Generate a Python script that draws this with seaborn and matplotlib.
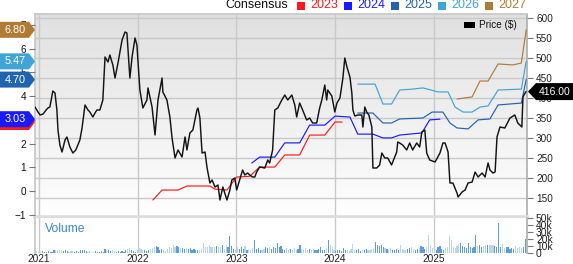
import numpy as np
import pandas as pd
import matplotlib
matplotlib.use("Agg")
import matplotlib.pyplot as plt
import matplotlib.dates as mdates
from matplotlib.patches import Polygon, Rectangle
from matplotlib.colors import LinearSegmentedColormap
import seaborn as sns

# ---------------- data ----------------
price_dates = [
    "2020-12-17", "2020-12-28", "2021-01-05", "2021-01-16", "2021-01-27", "2021-02-03", "2021-02-10",
    "2021-02-21", "2021-03-01", "2021-03-08", "2021-03-12", "2021-03-19", "2021-03-27", "2021-04-07",
    "2021-04-14", "2021-04-25", "2021-05-06", "2021-05-17", "2021-06-01", "2021-06-09", "2021-06-20",
    "2021-07-01", "2021-07-08", "2021-07-19", "2021-07-27", "2021-08-03", "2021-08-14", "2021-08-25",
    "2021-09-02", "2021-09-13", "2021-09-20", "2021-10-01", "2021-10-09", "2021-10-20", "2021-10-27",
    "2021-11-04", "2021-11-15", "2021-11-22", "2021-12-03", "2021-12-11", "2021-12-22", "2021-12-29",
    "2022-01-09", "2022-01-20", "2022-02-04", "2022-02-08", "2022-02-23", "2022-03-06", "2022-03-17",
    "2022-04-01", "2022-04-04", "2022-04-19", "2022-04-30", "2022-05-08", "2022-05-19", "2022-05-30",
    "2022-06-14", "2022-06-25", "2022-07-02", "2022-07-13", "2022-07-24", "2022-08-08", "2022-08-12",
    "2022-08-19", "2022-08-27", "2022-09-07", "2022-09-14", "2022-09-25", "2022-10-03", "2022-10-14",
    "2022-10-25", "2022-11-01", "2022-11-12", "2022-11-27", "2022-12-08", "2022-12-15", "2022-12-26",
    "2023-01-02", "2023-01-13", "2023-01-24", "2023-02-01", "2023-02-12", "2023-02-19", "2023-03-02",
    "2023-03-10", "2023-03-17", "2023-03-28", "2023-04-16", "2023-04-27", "2023-05-04", "2023-05-15",
    "2023-05-23", "2023-06-03", "2023-06-18", "2023-06-29", "2023-07-10", "2023-07-25", "2023-08-05",
    "2023-08-12", "2023-08-23", "2023-09-03", "2023-09-18", "2023-09-29", "2023-10-10", "2023-10-25",
    "2023-11-05", "2023-11-13", "2023-11-24", "2023-12-01", "2023-12-05", "2023-12-20", "2023-12-31",
    "2024-01-08", "2024-01-19", "2024-01-30", "2024-02-06", "2024-02-14", "2024-02-25", "2024-03-03",
    "2024-03-07", "2024-03-14", "2024-03-25", "2024-04-09", "2024-04-13", "2024-04-20", "2024-04-27",
    "2024-05-05", "2024-05-16", "2024-05-20", "2024-06-03", "2024-06-14", "2024-06-22", "2024-07-03",
    "2024-07-14", "2024-07-28", "2024-08-16", "2024-08-20", "2024-08-27", "2024-09-07", "2024-09-22",
    "2024-10-03", "2024-10-14", "2024-10-29", "2024-11-09", "2024-11-17", "2024-11-28", "2024-12-05",
    "2024-12-16", "2025-01-05", "2025-01-23", "2025-02-03", "2025-02-11", "2025-02-22", "2025-03-01",
    "2025-03-12", "2025-03-27", "2025-03-31", "2025-04-15", "2025-04-26", "2025-05-07", "2025-05-22",
    "2025-06-02", "2025-06-13", "2025-06-28", "2025-07-09", "2025-07-20", "2025-07-27", "2025-08-07",
    "2025-08-15", "2025-08-22", "2025-09-02", "2025-09-20", "2025-10-09", "2025-10-27", "2025-11-07",
    "2025-11-22", "2025-11-26", "2025-12-07",
]
price_values = [
    377.5, 365, 357.5, 360, 370, 375, 377.5,
    417.5, 412.5, 370, 320, 282.5, 265, 295,
    302.5, 277.5, 262.5, 270, 295, 325, 382.5,
    370, 365, 352.5, 362.5, 370, 370, 395,
    502.5, 490, 507.5, 482.5, 450, 487.5, 515,
    545, 565, 562.5, 450, 502.5, 550, 532.5,
    420, 375, 395, 425, 377.5, 307.5, 395,
    450, 415, 395, 352.5, 300, 250, 270,
    252.5, 302.5, 270, 312.5, 320, 370, 375,
    350, 262.5, 265, 227.5, 187.5, 195, 177.5,
    182.5, 145, 177.5, 145, 170, 195, 200,
    170, 195, 220, 207.5, 212.5, 207.5, 202.5,
    202.5, 215, 227.5, 225, 245, 237.5, 270,
    370, 375, 395, 407.5, 395, 407.5, 382.5,
    352.5, 387.5, 370, 345, 350, 337.5, 337.5,
    375, 395, 432.5, 395, 420, 405, 365,
    387.5, 400, 450, 500, 477.5, 452.5, 412.5,
    370, 355, 357.5, 357.5, 327.5, 377.5, 365,
    357.5, 327.5, 225, 225, 232.5, 262.5, 250,
    250, 232.5, 265, 290, 287.5, 282.5, 270,
    287.5, 270, 287.5, 277.5, 315, 320, 262.5,
    245, 240, 262.5, 287.5, 287.5, 265, 187.5,
    187.5, 162.5, 152.5, 165, 170, 187.5, 190,
    215, 202.5, 212.5, 202.5, 237.5, 220, 212.5,
    215, 302.5, 327.5, 325, 350, 357.5, 337.5,
    327.5, 402.5, 416,
]

eps2023_dates = ["2022-02-26", "2022-04-01", "2022-05-30", "2022-07-02", "2022-09-25", "2022-10-14",
                 "2022-11-27", "2023-01-02", "2023-02-19", "2023-03-28", "2023-05-23", "2023-06-29",
                 "2023-08-23", "2023-09-29", "2023-11-24", "2024-01-01", "2024-01-27"]
eps2023_values = [-0.38, 0.04, 0.04, 0.21, 0.21, 0.08, 0.04, 0.59, 0.62, 1.01, 1.01, 1.52,
                  1.52, 2.36, 2.36, 2.91, 2.91]

eps2024_dates = ["2023-02-27", "2023-03-28", "2023-05-23", "2023-06-29", "2023-08-23", "2023-09-29",
                 "2023-11-24", "2024-01-01", "2024-02-25", "2024-03-25", "2024-05-20", "2024-06-26",
                 "2024-07-28", "2024-08-27", "2024-11-17", "2024-12-16", "2025-01-23"]
eps2024_values = [1.18, 1.43, 1.43, 2.03, 2.03, 2.78, 2.78, 3.16, 3.12, 2.40, 2.40, 2.24,
                  2.24, 2.36, 2.45, 3.00, 3.03]

eps2025_dates = ["2024-03-25", "2024-05-20", "2024-06-26", "2024-07-28", "2024-08-27", "2024-11-21",
                 "2024-12-25", "2025-02-03", "2025-03-01", "2025-03-27", "2025-05-07", "2025-06-13",
                 "2025-07-27", "2025-08-26", "2025-11-20", "2025-12-08"]
eps2025_values = [3.29, 3.29, 2.87, 2.87, 3.04, 3.08, 3.33, 3.33, 2.87, 2.66, 2.62, 3.00,
                  3.04, 3.63, 3.71, 4.70]

eps2026_dates = ["2024-03-25", "2024-05-28", "2024-06-26", "2024-07-28", "2024-08-27", "2024-10-14",
                 "2024-11-21", "2025-01-16", "2025-02-22", "2025-03-20", "2025-04-19", "2025-05-22",
                 "2025-06-20", "2025-07-20", "2025-08-26", "2025-11-20", "2025-12-08"]
eps2026_values = [4.51, 4.51, 3.67, 3.67, 4.26, 4.30, 4.35, 4.18, 4.18, 3.54, 3.33, 3.33,
                  3.54, 3.59, 4.26, 4.30, 5.47]

eps2027_dates = ["2025-03-27", "2025-05-22", "2025-06-20", "2025-07-20", "2025-08-26", "2025-10-20",
                 "2025-11-20", "2025-12-08"]
eps2027_values = [3.88, 3.97, 4.64, 4.64, 5.36, 5.32, 5.40, 6.80]

eps_badges = {"2023": 2.91, "2024": 3.03, "2025": 4.70, "2026": 5.47, "2027": 6.80}
last_price = 416.00

volume_start = "2020-12-17"
volume_k = [
    7, 3, 2, 2, 3, 2, 2, 3, 2, 2, 4, 5, 4, 5, 4, 3, 4, 3, 2, 3, 3, 2, 3, 2, 4, 4,
    4, 3, 2, 3, 2, 2, 3, 2, 2, 3, 2, 6, 5, 4, 3, 4, 3, 2, 3, 2, 3, 2, 4, 6, 7, 5,
    3, 2, 4, 7, 6, 4, 5, 3, 4, 6, 7, 9, 10, 8, 5, 6, 4, 3, 6, 8, 7, 11, 9, 10,
    8, 7, 7, 6, 7, 6, 7, 5, 6, 4, 5, 4, 6, 15, 9, 8, 11, 9, 8, 9, 10, 8, 9, 11, 6, 12, 8, 25,
    10, 6, 5, 8, 6, 8, 6, 10, 5, 6, 4, 7, 19, 6, 7, 5, 4, 6, 8, 7, 8, 6, 8, 7, 14,
    9, 10, 6, 5, 7, 4, 6, 5, 7, 5, 6, 11, 6, 5, 7, 4, 6, 5, 6, 4, 5, 6, 8, 5, 4, 7, 18,
    12, 8, 4, 3, 5, 4, 3, 7, 4, 5, 3, 6, 13, 5, 4, 6, 3, 5, 4, 6, 5, 4, 6, 7, 16, 11, 10, 11,
    8, 7, 6, 5, 7, 5, 4, 6, 5, 12, 6, 5, 4, 6, 7, 8, 6, 5, 6, 7, 10, 8, 6, 9,
    26, 12, 7, 6, 5, 8, 10, 6, 5, 7, 9, 25, 19, 8, 7, 10, 13, 14, 10, 8, 7,
    15, 9, 7, 8, 26, 10, 11, 9, 10, 11, 12, 11, 12, 12, 10, 9, 43, 9, 13, 7, 9,
    8, 6, 7, 6, 10, 7, 8, 7, 9, 20,
]

series_colors = {"2023": "#ff1a1a", "2024": "#1a1aff", "2025": "#2064b0",
                 "2026": "#3fa4d6", "2027": "#b27b34"}

# ---------------- figure ----------------
sns.set_theme(style="white")
plt.rcParams['font.family'] = ['Liberation Sans', 'DejaVu Sans']

W, H = 573, 264
fig = plt.figure(figsize=(W / 100, H / 100), dpi=100)
fig.patch.set_facecolor('white')

PL, PR, PT, PB = 35, 527, 14, 217
VT, VB = 218, 253
rect_p = [PL / W, 1 - PB / H, (PR - PL) / W, (PB - PT) / H]
rect_v = [PL / W, 1 - VB / H, (PR - PL) / W, (VB - VT) / H]

# gradient background
bg = fig.add_axes(rect_p, zorder=-1)
grad = np.linspace(0, 1, 256).reshape(-1, 1)
cmap = LinearSegmentedColormap.from_list('g', ['#e0e0e0', '#ffffff'])
bg.imshow(grad, aspect='auto', cmap=cmap, extent=[0, 1, 0, 1], origin='upper')
bg.axis('off')

ax_price = fig.add_axes(rect_p)
ax_price.patch.set_alpha(0)
ax_eps = ax_price.twinx()
ax_top = ax_price.twinx()
ax_vol = fig.add_axes(rect_v, sharex=ax_price)

xmin = pd.Timestamp("2020-12-17")
xmax = pd.Timestamp("2025-12-11")
P_LO, P_HI = 102.5, 610
E_LO, E_HI = -1.097, 7.468

# EPS lines
for yr, d, v in [("2023", eps2023_dates, eps2023_values), ("2024", eps2024_dates, eps2024_values),
                 ("2025", eps2025_dates, eps2025_values), ("2026", eps2026_dates, eps2026_values),
                 ("2027", eps2027_dates, eps2027_values)]:
    sns.lineplot(x=pd.to_datetime(d), y=v, ax=ax_eps, color=series_colors[yr], linewidth=0.85)

# price line
pdates = pd.to_datetime(price_dates)
sns.lineplot(x=pdates, y=price_values, ax=ax_top, color='#141414', linewidth=1.05)

# volume bars
vdates = pd.date_range(volume_start, periods=len(volume_k), freq="7D")
wk_price = np.interp(mdates.date2num(vdates), mdates.date2num(pdates), price_values)
vcols = ['#5b9fd6' if i > 0 and wk_price[i] >= wk_price[i - 1] else '#b8d5ee'
         for i in range(len(wk_price))]
ax_vol.bar(vdates, volume_k, width=4.3, color=vcols, linewidth=0)

# ---------- axes styling ----------
for a in (ax_price, ax_eps, ax_top, ax_vol):
    a.set_xlim(xmin, xmax)
    a.set_xlabel('')
    a.set_ylabel('')

ax_price.set_ylim(P_LO, P_HI)
ax_top.set_ylim(P_LO, P_HI)
ax_eps.set_ylim(E_LO, E_HI)

ax_price.set_yticks(range(150, 601, 50))
ax_price.yaxis.tick_right()
ax_price.xaxis.set_major_locator(mdates.YearLocator())
ax_price.xaxis.set_major_formatter(mdates.DateFormatter('%Y'))
ax_price.grid(True, color='#c9c9c9', linewidth=1)
ax_price.tick_params(axis='x', labelbottom=False, bottom=False, length=0)
ax_price.tick_params(axis='y', left=False, right=True, labelleft=False, labelright=True,
                     length=4.5, width=0.8, color='#777777', labelsize=7.2,
                     labelcolor='#222222', pad=2)
ax_price.spines['left'].set_color('#c8c8c8')
ax_price.spines['top'].set_color('#c8c8c8')
ax_price.spines['right'].set_color('#b0b0b0')
ax_price.spines['bottom'].set_color('#dddddd')
ax_price.spines['bottom'].set_linewidth(2.6)
for s in ax_price.spines.values():
    s.set_visible(True)

ax_eps.yaxis.tick_left()
ax_eps.set_yticks(range(-1, 8))
ax_eps.tick_params(axis='y', left=True, right=False, labelleft=True, labelright=False,
                   length=4.5, width=0.8, color='#777777', labelsize=7.2,
                   labelcolor='#111111', pad=2)
ax_eps.tick_params(axis='x', bottom=False, labelbottom=False)
ax_eps.grid(False)
for s in ax_eps.spines.values():
    s.set_visible(False)

ax_top.axis('off')

ax_vol.set_ylim(0, 50)
ax_vol.set_yticks([0, 10, 20, 30, 40, 50])
ax_vol.set_yticklabels(['0', '10k', '20k', '30k', '40k', '50k'])
ax_vol.yaxis.tick_right()
ax_vol.tick_params(axis='y', left=False, right=True, labelleft=False, labelright=True,
                   length=4.5, width=0.8, color='#777777', labelsize=7.4,
                   labelcolor='#222222', pad=2)
ax_vol.tick_params(axis='x', bottom=False, labelbottom=True, length=0, labelsize=7.3,
                   labelcolor='#222222', pad=0.5)
ax_vol.grid(True, axis='x', color='#c9c9c9', linewidth=1)
ax_vol.grid(False, axis='y')
ax_vol.set_facecolor('white')
ax_vol.spines['left'].set_color('#c8c8c8')
ax_vol.spines['right'].set_color('#b0b0b0')
ax_vol.spines['top'].set_visible(False)
ax_vol.spines['bottom'].set_visible(False)
ax_vol.set_axisbelow(True)


def fxy(px, py):
    return (px / W, 1 - py / H)


def img_y(ax, v):
    disp = ax.transData.transform((mdates.date2num(xmin), v))
    return H - disp[1]


# ---------- badges (left, EPS) ----------
z = 5
for yr in ["2023", "2024", "2025", "2026", "2027"]:
    v = eps_badges[yr]
    yc = img_y(ax_eps, v)
    pts = [fxy(0, yc - 8), fxy(29, yc - 8), fxy(35, yc), fxy(29, yc + 8), fxy(0, yc + 8)]
    fig.add_artist(Polygon(pts, closed=True, transform=fig.transFigure,
                           facecolor=series_colors[yr], edgecolor='none', zorder=z))
    fig.text(15 / W, 1 - yc / H, f"{v:.2f}", color='white', fontsize=7.8,
             ha='center', va='center', zorder=z + 0.5)
    z += 1

# ---------- badge (right, price) ----------
yc = img_y(ax_price, last_price)
pts = [fxy(528, yc), fxy(536, yc - 8.5), fxy(573, yc - 8.5), fxy(573, yc + 8.5), fxy(536, yc + 8.5)]
fig.add_artist(Polygon(pts, closed=True, transform=fig.transFigure,
                       facecolor='#000000', edgecolor='none', zorder=5))
fig.text(555 / W, 1 - yc / H, f"{last_price:.2f}", color='white', fontsize=7.5,
         ha='center', va='center', zorder=6)

# ---------- top legend ----------
fig.text(225 / W, 1 - 5.5 / H, "Consensus", fontsize=9, color='#111111', va='center')
for i, yr in enumerate(["2023", "2024", "2025", "2026", "2027"]):
    sx = 297 + 47 * i
    fig.add_artist(Rectangle(fxy(sx, 9.5), 8 / W, 8 / H, transform=fig.transFigure,
                             facecolor=series_colors[yr], edgecolor='none'))
    fig.text((sx + 13) / W, 1 - 5.5 / H, yr, fontsize=9, color=series_colors[yr], va='center')

# price legend
fig.add_artist(Rectangle(fxy(464, 27.5), 11 / W, 5.5 / H, transform=fig.transFigure,
                         facecolor='#000000', edgecolor='none', zorder=5))
fig.text(479 / W, 1 - 25 / H, "Price ($)", fontsize=7.2, color='#111111', va='center', zorder=6)

# volume label
fig.text(45 / W, 1 - 228.5 / H, "Volume", fontsize=8.7, color='#3b88c8', va='center')

fig.savefig("out.png", dpi=100, facecolor='white')
